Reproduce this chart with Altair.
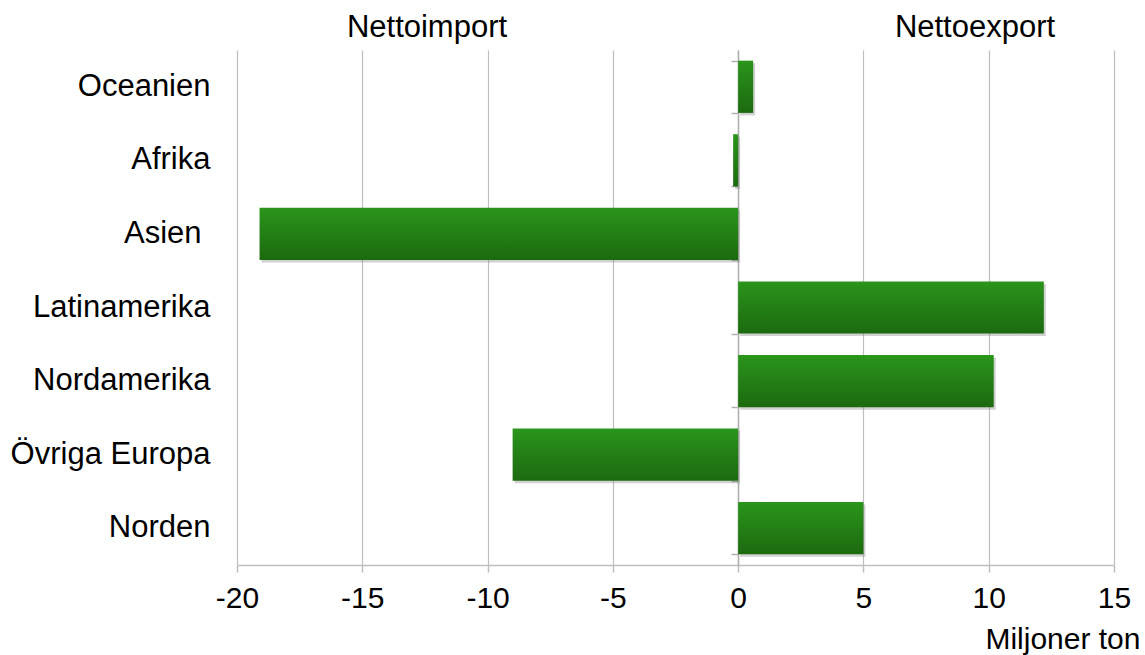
import altair as alt
import pandas as pd

# Regions, top to bottom, and net trade in million tonnes
regions = ["Oceanien", "Afrika", "Asien", "Latinamerika", "Nordamerika", "Övriga Europa", "Norden"]
net_trade = [0.6, -0.2, -19.1, 12.2, 10.2, -9.0, 5.0]
x_ticks = [-20, -15, -10, -5, 0, 5, 10, 15]

df = pd.DataFrame({"region": regions, "value": net_trade})

FONT = "Liberation Sans"
GRID = "#bfbfbf"

y_scale = alt.Scale(domain=regions, paddingInner=0.29, paddingOuter=0.145)
x_scale = alt.Scale(domain=[-20, 15], nice=False)

x_axis = alt.Axis(
    values=x_ticks,
    labelExpr="toString(datum.value)",
    labelFlush=False,
    grid=True,
    gridColor=GRID,
    gridWidth=1.2,
    domainColor=GRID,
    domainWidth=1.5,
    tickColor=GRID,
    tickWidth=1.5,
    tickSize=7,
    labelFont=FONT,
    labelFontSize=30,
    labelColor="#000000",
    labelPadding=11,
    title="Miljoner ton",
    titleFont=FONT,
    titleFontSize=30,
    titleFontWeight="normal",
    titleColor="#000000",
    titleAlign="right",
    titleAnchor="end",
    titleX=903,
    titleY=83,
    titleBaseline="alphabetic",
)

base = alt.Chart(df)

# Soft drop shadow under every bar; also carries the axis drawn at zero
shadow = base.mark_bar(
    color="#7a7a7a", opacity=0.35, xOffset=2, yOffset=2.5
).encode(
    x=alt.X("value:Q", scale=x_scale, axis=x_axis),
    y=alt.Y(
        "region:N",
        sort=regions,
        scale=y_scale,
        axis=alt.Axis(
            orient="left",
            offset=-501,
            labels=False,
            title=None,
            grid=False,
            domain=True,
            domainColor="#b0b0b0",
            domainWidth=1.5,
            ticks=True,
            tickBand="extent",
            tickColor="#b0b0b0",
            tickWidth=1.5,
            tickSize=7,
        ),
    ),
)

green = alt.Gradient(
    gradient="linear",
    stops=[
        alt.GradientStop(color="#2a951b", offset=0),
        alt.GradientStop(color="#1c6a0f", offset=1),
    ],
    x1=0, x2=0, y1=0, y2=1,
)

bars = base.mark_bar(color=green).encode(
    x=alt.X("value:Q", scale=x_scale, axis=x_axis),
    y=alt.Y(
        "region:N",
        sort=regions,
        scale=y_scale,
        axis=alt.Axis(
            orient="left",
            title=None,
            domain=False,
            ticks=False,
            grid=False,
            labelFont=FONT,
            labelFontSize=31,
            labelColor="#000000",
            # "Asien" label sits a little further from the plot
            labelPadding={"condition": {"test": "datum.value === 'Asien'", "value": 36}, "value": 27},
            labelLimit=0,
        ),
    ),
)

headers = alt.Chart(
    pd.DataFrame({"label": ["Nettoimport", "Nettoexport"], "px": [190, 738]})
).mark_text(font=FONT, fontSize=31, color="#000000", baseline="alphabetic").encode(
    x=alt.X("px:Q", scale=None),
    y=alt.value(-13),
    text="label:N",
)

chart = (
    alt.layer(shadow, bars, headers)
    .resolve_axis(y="independent")
    .properties(
        width=877,
        height=515,
        padding={"left": 237, "top": 50, "right": 31, "bottom": 90},
        autosize=alt.AutoSizeParams(type="none"),
        background="#ffffff",
    )
    .configure_view(stroke=None)
)

chart.save("out.html", embed_options={"renderer": "svg", "actions": False})
